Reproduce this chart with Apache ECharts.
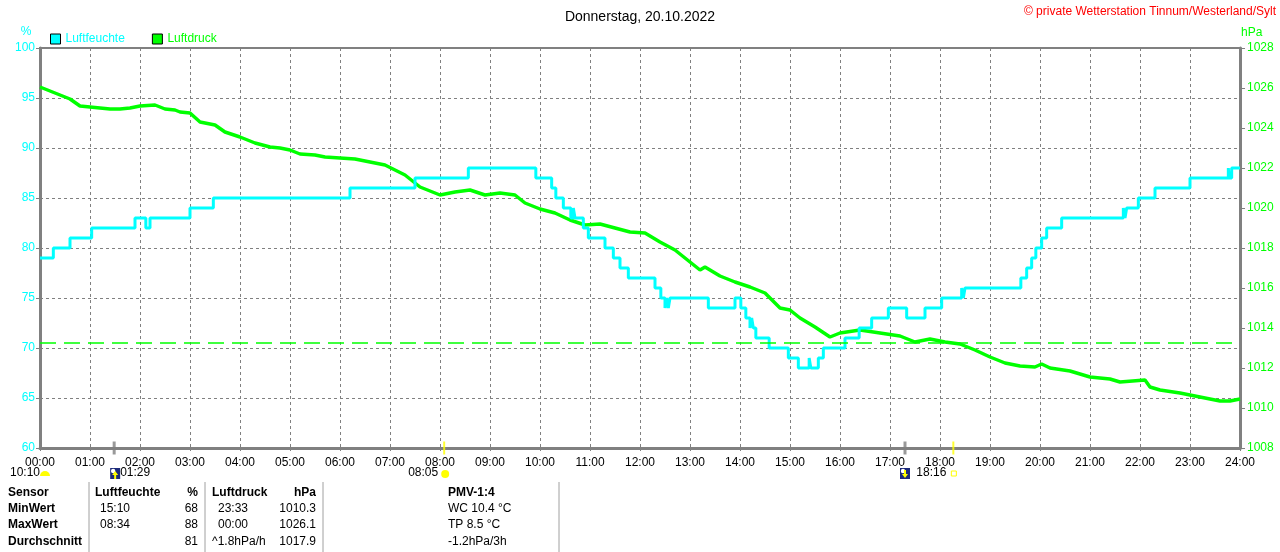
<!DOCTYPE html>
<html>
<head>
<meta charset="utf-8">
<script src="https://cdn.jsdelivr.net/npm/echarts@6/dist/echarts.min.js"></script>
<style>
html,body{margin:0;padding:0;background:#fff;}
#c{width:1280px;height:552px;}
</style>
</head>
<body>
<div id="c"></div>
<script>
// ---- data (time in minutes since 00:00) ----
const title = 'Donnerstag, 20.10.2022';
const copyright = '\u00A9 private Wetterstation Tinnum/Westerland/Sylt';
const humName = 'Luftfeuchte';
const presName = 'Luftdruck';

const humTimes = [0,16,36,62,114,127,132,180,208,372,450,514,595,614,619,628,637,640,642,652,658,678,688,696,706,738,745,750,752,754,756,802,834,841,847,852,854,856,859,875,898,910,923,925,934,940,966,983,998,1018,1040,1062,1082,1106,1108,1110,1177,1184,1190,1195,1202,1208,1226,1300,1302,1304,1318,1338,1380,1426,1427,1430,1440];
const humValues = [79,80,81,82,83,82,83,84,85,86,87,88,87,86,85,84,83,84,83,82,81,80,79,78,77,76,75,74,75,74,75,74,75,74,73,72,73,72,71,70,69,68,69,68,69,70,71,72,73,74,73,74,75,76,75,76,77,78,79,80,81,82,83,84,83,84,85,86,87,88,87,88,88];

const presTimes = [0,12,24,36,48,60,72,84,96,108,120,138,150,162,168,180,192,210,222,240,258,276,288,300,312,330,342,360,378,396,414,426,438,444,456,480,498,516,534,552,570,582,600,618,636,654,672,690,708,726,744,762,780,792,798,816,834,852,870,888,900,912,930,948,960,984,1008,1032,1050,1068,1086,1104,1122,1140,1158,1176,1194,1202,1212,1236,1248,1260,1284,1296,1326,1332,1344,1368,1380,1392,1404,1416,1428,1440];
const presValues = [1026.05,1025.85,1025.65,1025.45,1025.1,1025.05,1025.0,1024.95,1024.95,1025.0,1025.1,1025.15,1024.95,1024.9,1024.8,1024.75,1024.3,1024.15,1023.8,1023.55,1023.25,1023.05,1023.0,1022.9,1022.7,1022.65,1022.55,1022.5,1022.45,1022.3,1022.15,1021.9,1021.65,1021.45,1021.05,1020.65,1020.8,1020.9,1020.65,1020.75,1020.65,1020.25,1019.95,1019.75,1019.4,1019.15,1019.2,1019.0,1018.8,1018.75,1018.3,1017.9,1017.3,1016.9,1017.05,1016.6,1016.3,1016.05,1015.75,1015.0,1014.9,1014.5,1014.05,1013.55,1013.75,1013.9,1013.75,1013.6,1013.3,1013.45,1013.3,1013.2,1012.9,1012.55,1012.25,1012.1,1012.05,1012.2,1012.0,1011.85,1011.7,1011.55,1011.45,1011.3,1011.4,1011.05,1010.9,1010.75,1010.65,1010.55,1010.45,1010.35,1010.35,1010.45];

const standardPressure = 1013.25;

// astronomical events (minutes)
const moonTicks = [89, 1038];
const sunTicks = [485, 1096];
const moonLabel = '10:10';
const moonsetLabel = '01:29';
const sunriseLabel = '08:05';
const sunsetLabel = '18:16';

// table
const tableHeader = ['Sensor', 'Luftfeuchte', '%', 'Luftdruck', 'hPa', 'PMV-1:4'];
const rowNames = ['MinWert', 'MaxWert', 'Durchschnitt'];
const humTimeCol = ['15:10', '08:34', ''];
const humValCol = ['68', '88', '81'];
const presTimeCol = ['23:33', '00:00', '^1.8hPa/h'];
const presValCol = ['1010.3', '1026.1', '1017.9'];
const pmvCol = ['WC 10.4 \u00B0C', 'TP 8.5 \u00B0C', '-1.2hPa/3h'];

// ---- chart ----
const CYAN = '#00ffff', GREEN = '#00ff00', GRAY = '#808080';
const FONT = 'Liberation Sans, Arial, sans-serif';
const pad = n => (n < 10 ? '0' : '') + n;

const humData = humTimes.map((t, i) => [t, humValues[i]]);
const presData = presTimes.map((t, i) => [t, presValues[i]]);

const chart = echarts.init(document.getElementById('c'), null, {renderer: 'canvas'});

const option = {
  backgroundColor: '#fff',
  animation: false,
  textStyle: {fontFamily: FONT},
  title: {
    text: title, left: 'center', top: 5,
    textStyle: {fontSize: 14, fontWeight: 'normal', color: '#000', fontFamily: FONT}
  },
  legend: {
    left: 50, top: 33, padding: 0, itemWidth: 10, itemHeight: 10, itemGap: 27,
    icon: 'rect',
    data: [
      {name: humName, itemStyle: {color: CYAN, borderColor: '#000', borderWidth: 1}, textStyle: {color: CYAN}},
      {name: presName, itemStyle: {color: GREEN, borderColor: '#000', borderWidth: 1}, textStyle: {color: GREEN}}
    ],
    textStyle: {fontSize: 12, fontFamily: FONT}
  },
  grid: {left: 40, right: 40, top: 48, bottom: 104, show: true, borderColor: GRAY, borderWidth: 2, backgroundColor: 'transparent'},
  xAxis: {
    type: 'value', min: 0, max: 1440, interval: 60,
    axisLine: {show: true, lineStyle: {color: GRAY, width: 3}},
    axisTick: {show: true, length: 3, lineStyle: {color: GRAY}},
    axisLabel: {color: '#000', fontSize: 12, margin: 9, formatter: v => pad(Math.floor(v / 60)) + ':00'},
    splitLine: {show: true, lineStyle: {color: GRAY, type: [3, 3], width: 1}}
  },
  yAxis: [
    {
      type: 'value', min: 60, max: 100, interval: 5, position: 'left',
      axisLine: {show: true, lineStyle: {color: GRAY, width: 3}},
      axisTick: {show: true, length: 4, lineStyle: {color: GRAY}},
      axisLabel: {color: CYAN, fontSize: 12, margin: 5, formatter: v => String(v)},
      splitLine: {show: true, lineStyle: {color: GRAY, type: [3, 3], width: 1}}
    },
    {
      type: 'value', min: 1008, max: 1028, interval: 2, position: 'right',
      axisLine: {show: true, lineStyle: {color: GRAY, width: 3}},
      axisTick: {show: true, length: 5, lineStyle: {color: GRAY}},
      axisLabel: {color: GREEN, fontSize: 12, margin: 7, formatter: v => String(v)},
      splitLine: {show: false}
    }
  ],
  series: [
    {
      name: presName, type: 'line', yAxisIndex: 1, data: presData,
      showSymbol: false, symbol: 'none', color: GREEN,
      lineStyle: {color: GREEN, width: 3.5}, z: 3,
      markLine: {
        silent: true, symbol: 'none', label: {show: false}, z: 5,
        lineStyle: {color: GREEN, type: [16, 8], width: 1.5, opacity: 1},
        emphasis: {disabled: true},
        data: [{yAxis: standardPressure, lineStyle: {color: GREEN}}]
      }
    },
    {
      name: humName, type: 'line', yAxisIndex: 0, data: humData, step: 'end',
      showSymbol: false, symbol: 'none', color: CYAN,
      lineStyle: {color: CYAN, width: 3}, z: 4
    },
    {
      name: 'moonTicks', type: 'scatter', yAxisIndex: 0, clip: false, silent: true,
      symbol: 'rect', symbolSize: [3, 13], itemStyle: {color: GRAY},
      data: moonTicks.map(t => [t, 60]), z: 6
    },
    {
      name: 'sunTicks', type: 'scatter', yAxisIndex: 0, clip: false, silent: true,
      symbol: 'rect', symbolSize: [2, 13], itemStyle: {color: '#ffff00'},
      data: sunTicks.map(t => [t, 60]), z: 6
    }
  ]
};
chart.setOption(option);

// ---- overlays (text, icons, table) ----
const px = t => chart.convertToPixel({xAxisIndex: 0}, t);
const g = [];
const txt = (x, y, s, opt) => g.push(Object.assign({type: 'text', x: x, y: y, style: Object.assign({text: s, fill: '#000', font: '12px ' + FONT, textVerticalAlign: 'middle'}, opt || {})}));

// header texts
txt(1276, 12, copyright, {fill: '#ff0000', textAlign: 'right'});
txt(26, 32, '%', {fill: CYAN, textAlign: 'center'});
txt(1241, 33, 'hPa', {fill: GREEN});

// moon icon helper
const moonIcon = (x, y, up) => {
  g.push({type: 'rect', shape: {x: x, y: y, width: 10, height: 11}, style: {fill: '#1c2a7a'}});
  g.push({type: 'circle', shape: {cx: x + 3, cy: y + 3, r: 2.2}, style: {fill: '#ffffff'}});
  g.push({type: 'polygon', shape: {points: up ? [[x + 5, y + 3], [x + 8, y + 7], [x + 6, y + 7], [x + 6, y + 11], [x + 4, y + 11], [x + 4, y + 7], [x + 2, y + 7]] : [[x + 5, y + 10], [x + 8, y + 6], [x + 6, y + 6], [x + 6, y + 2], [x + 4, y + 2], [x + 4, y + 6], [x + 2, y + 6]]}, style: {fill: '#ffff00'}});
};
const rowY = 473;
// 10:10 with half sun at start
txt(10, rowY, moonLabel);
const x0 = px(0);
g.push({type: 'sector', shape: {cx: x0 + 5, cy: rowY + 3, r: 5, startAngle: Math.PI, endAngle: 2 * Math.PI}, style: {fill: '#ffff00'}});
// moonset 01:29
const xm1 = px(moonTicks[0]);
moonIcon(xm1 - 4, rowY - 5, true);
txt(xm1 + 6, rowY, moonsetLabel);
// sunrise 08:05
const xs1 = px(sunTicks[0]);
txt(xs1 - 6, rowY, sunriseLabel, {textAlign: 'right'});
g.push({type: 'circle', shape: {cx: xs1 + 1, cy: rowY + 1, r: 4}, style: {fill: '#ffff00'}});
// moonrise 17:18
const xm2 = px(moonTicks[1]);
moonIcon(xm2 - 5, rowY - 5, false);
// sunset 18:16
const xs2 = px(sunTicks[1]);
txt(xs2 - 7, rowY, sunsetLabel, {textAlign: 'right'});
g.push({type: 'rect', shape: {x: xs2 - 2, y: rowY - 2, width: 5, height: 5}, style: {fill: 'none', stroke: '#ffff00', lineWidth: 1}});

// table
const colX = {sensor: 8, hum: 95, humVal: 198, pres: 212, presVal: 316, pmv: 448};
const rows = [493, 509, 525, 542];
const bold = {font: 'bold 12px ' + FONT};
txt(colX.sensor, rows[0], tableHeader[0], bold);
txt(colX.hum, rows[0], tableHeader[1], bold);
txt(colX.humVal, rows[0], tableHeader[2], Object.assign({textAlign: 'right'}, bold));
txt(colX.pres, rows[0], tableHeader[3], bold);
txt(colX.presVal, rows[0], tableHeader[4], Object.assign({textAlign: 'right'}, bold));
txt(colX.pmv, rows[0], tableHeader[5], bold);
rowNames.forEach((n, i) => {
  const y = rows[i + 1];
  txt(colX.sensor, y, n, bold);
  txt(colX.hum + 5, y, humTimeCol[i]);
  txt(colX.humVal, y, humValCol[i], {textAlign: 'right'});
  txt(colX.pres + (i < 2 ? 6 : 0), y, presTimeCol[i]);
  txt(colX.presVal, y, presValCol[i], {textAlign: 'right'});
  txt(colX.pmv, y, pmvCol[i]);
});
[89, 205, 323, 559].forEach(x => g.push({type: 'line', shape: {x1: x, y1: 482, x2: x, y2: 552}, style: {stroke: '#a0a0a0', lineWidth: 1}}));

chart.setOption({graphic: {elements: g}});
</script>
</body>
</html>
